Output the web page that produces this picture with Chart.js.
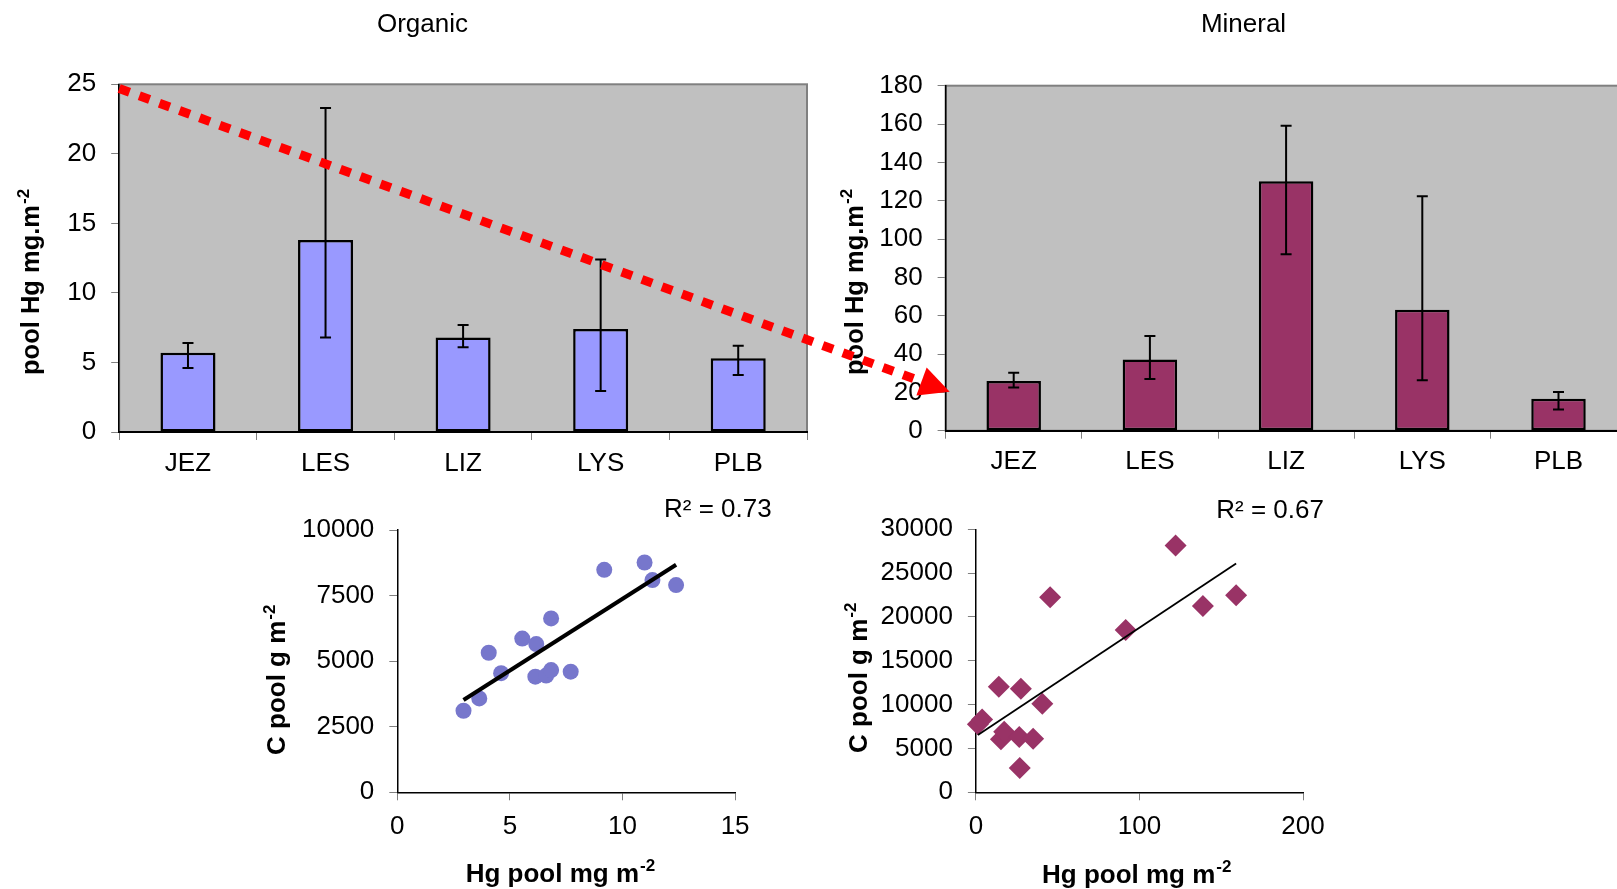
<!DOCTYPE html>
<html>
<head>
<meta charset="utf-8">
<script src="https://cdn.jsdelivr.net/npm/chart.js@4.4.1/dist/chart.umd.min.js"></script>
<style>
html, body { margin: 0; padding: 0; background: #fff; overflow: hidden; }
canvas { position: absolute; left: 0; top: 0; }
</style>
</head>
<body>
<canvas id="organicBars" width="1640" height="889"></canvas>
<canvas id="mineralBars" width="1640" height="889"></canvas>
<canvas id="organicScatter" width="1640" height="889"></canvas>
<canvas id="mineralScatter" width="1640" height="889"></canvas>
<canvas id="arrow" width="1640" height="889"></canvas>
<script>
// site means with error bar ends (mg Hg per m2)
const sites = ['JEZ', 'LES', 'LIZ', 'LYS', 'PLB'];
const organicMean = [5.7, 13.8, 6.8, 7.4, 5.3];
const organicLow = [4.6, 6.8, 6.1, 2.95, 4.1];
const organicHigh = [6.4, 23.3, 7.7, 12.4, 6.2];
const mineralMean = [25.9, 37.2, 130.1, 63.1, 16.7];
const mineralLow = [22.6, 27.0, 92.0, 26.3, 11.1];
const mineralHigh = [30.3, 49.4, 159.1, 122.3, 20.2];

// Hg pool vs C pool, single profiles
const organicHg = [2.94, 3.64, 4.06, 4.61, 5.55, 6.17, 6.13, 6.61, 6.83, 6.83, 7.70, 9.19, 10.98, 11.33, 12.38];
const organicC = [3110, 3580, 5320, 4540, 5860, 5650, 4410, 4450, 6630, 4660, 4600, 8480, 8760, 8090, 7900];
const mineralHg = [1.2, 3.8, 14.0, 15.3, 17.3, 26.5, 27.5, 26.8, 35.0, 40.6, 45.4, 91.6, 122.1, 138.8, 159.1];
const mineralC = [7750, 8300, 12050, 6050, 6920, 6300, 11800, 2780, 6100, 10100, 22240, 18520, 28140, 21260, 22470];

// axis ticks
const organicBarTicks = [0, 5, 10, 15, 20, 25];
const mineralBarTicks = [0, 20, 40, 60, 80, 100, 120, 140, 160, 180];
const organicHgTicks = [0, 5, 10, 15];
const organicCTicks = [0, 2500, 5000, 7500, 10000];
const mineralHgTicks = [0, 100, 200];
const mineralCTicks = [0, 5000, 10000, 15000, 20000, 25000, 30000];

// red arrow: from top of organic panel to the mineral panel (category index, value)
const arrowStart = { index: -0.5, value: 24.7 };
const arrowEnd = { index: -0.47, value: 20.3 };

Chart.defaults.font.family = "'Liberation Sans', Arial, sans-serif";
Chart.defaults.font.size = 26;
Chart.defaults.color = '#000';

const Y_BOX = 110;   // fixed width of every y axis box
const X_BOX = 50;    // fixed height of every x axis box

function fit(list, min, max) {
  return { min: min, max: max, afterBuildTicks: s => { s.ticks = list.map(v => ({ value: v })); } };
}

function trendLine(xs, ys) {
  const n = xs.length;
  const mx = xs.reduce((a, b) => a + b) / n, my = ys.reduce((a, b) => a + b) / n;
  let sxy = 0, sxx = 0, syy = 0;
  xs.forEach((x, i) => { sxy += (x - mx) * (ys[i] - my); sxx += (x - mx) ** 2; syy += (ys[i] - my) ** 2; });
  const b = sxy / sxx, a = my - b * mx;
  const lo = Math.min(...xs), hi = Math.max(...xs);
  return { pts: [{ x: lo, y: a + b * lo }, { x: hi, y: a + b * hi }], r2: sxy * sxy / (sxx * syy) };
}

// plot area box: chart area left/top/right/bottom in page pixels
function area(left, top, right, bottom) {
  return { left: left - Y_BOX, top: top, right: 1640 - right, bottom: 889 - bottom - X_BOX };
}

const plain = v => String(v);

const plotFrame = {
  id: 'plotFrame',
  beforeDraw(chart) {
    const { ctx, chartArea: a } = chart;
    ctx.save();
    ctx.fillStyle = '#C0C0C0';
    ctx.fillRect(a.left, a.top, a.right - a.left, a.bottom - a.top);
    ctx.strokeStyle = '#808080';
    ctx.lineWidth = 2;
    ctx.strokeRect(a.left, a.top, a.right - a.left, a.bottom - a.top);
    ctx.restore();
  }
};

function errorBars(low, high) {
  return {
    id: 'errorBars',
    afterDatasetsDraw(chart) {
      const { ctx, scales: { x, y } } = chart;
      ctx.save();
      ctx.strokeStyle = '#000';
      ctx.lineWidth = 2;
      low.forEach((lo, i) => {
        const px = x.getPixelForValue(i);
        const yl = y.getPixelForValue(lo), yh = y.getPixelForValue(high[i]);
        ctx.beginPath();
        ctx.moveTo(px, yl); ctx.lineTo(px, yh);
        ctx.moveTo(px - 5.5, yl); ctx.lineTo(px + 5.5, yl);
        ctx.moveTo(px - 5.5, yh); ctx.lineTo(px + 5.5, yh);
        ctx.stroke();
      });
      ctx.restore();
    }
  };
}

// titles, axis titles with superscripts, R² labels
function notes(items) {
  return {
    id: 'notes',
    afterDraw(chart) {
      const ctx = chart.ctx;
      items.forEach(t => {
        const size = t.size || 26;
        const fam = Chart.defaults.font.family;
        const main = (t.bold ? 'bold ' : '') + size + 'px ' + fam;
        const small = (t.bold ? 'bold ' : '') + Math.round(size * 0.65) + 'px ' + fam;
        ctx.save();
        ctx.translate(t.x, t.y);
        if (t.rot) ctx.rotate(t.rot);
        ctx.fillStyle = '#000';
        ctx.textBaseline = 'alphabetic';
        ctx.textAlign = 'left';
        ctx.font = main;
        const w = ctx.measureText(t.text).width;
        let sw = 0;
        if (t.sup) { ctx.font = small; sw = ctx.measureText(t.sup).width + 1; ctx.font = main; }
        const x0 = t.align === 'center' ? -(w + sw) / 2 : 0;
        ctx.fillText(t.text, x0, 0);
        if (t.sup) {
          ctx.font = small;
          ctx.fillText(t.sup, x0 + w + 1, -size * 0.4);
        }
        ctx.restore();
      });
    }
  };
}

function barScales(ticks, max) {
  return {
    x: {
      type: 'category',
      offset: true,
      grid: { offset: true, drawOnChartArea: false, tickLength: 8, color: '#808080' },
      border: { color: '#000', width: 2 },
      ticks: { padding: 8, font: { size: 26 } },
      afterFit: s => { s.height = X_BOX; }
    },
    y: Object.assign(fit(ticks, 0, max), {
      grid: { drawOnChartArea: false, tickLength: 8, color: '#808080' },
      border: { color: '#000', width: 1.5 },
      ticks: { padding: 15, font: { size: 26 }, callback: plain },
      afterFit: s => { s.width = Y_BOX; }
    })
  };
}

function scatterScales(xt, xmax, yt, ymax) {
  return {
    x: Object.assign(fit(xt, 0, xmax), {
      type: 'linear',
      grid: { drawOnChartArea: false, tickLength: 8, color: '#808080' },
      border: { color: '#000', width: 1.5 },
      ticks: { padding: 11, font: { size: 26 }, callback: plain },
      afterFit: s => { s.height = X_BOX; }
    }),
    y: Object.assign(fit(yt, 0, ymax), {
      type: 'linear',
      grid: { drawOnChartArea: false, tickLength: 8, color: '#808080' },
      border: { color: '#000', width: 1.5 },
      ticks: { padding: 15, font: { size: 26 }, callback: plain },
      afterFit: s => { s.width = Y_BOX; }
    })
  };
}

const common = {
  animation: false,
  responsive: false,
  events: [],
  plugins: { legend: { display: false }, tooltip: { enabled: false } }
};

const organicChart = new Chart(document.getElementById('organicBars'), {
  type: 'bar',
  data: {
    labels: sites,
    datasets: [{
      data: organicMean,
      backgroundColor: '#9999FF',
      borderColor: '#000',
      borderWidth: 2.5,
      borderSkipped: false,
      barPercentage: 0.4,
      categoryPercentage: 1
    }]
  },
  options: Object.assign({}, common, {
    layout: { padding: area(119.2, 84.3, 807, 432) },
    scales: barScales(organicBarTicks, 25)
  }),
  plugins: [plotFrame, errorBars(organicLow, organicHigh), notes([
    { text: 'Organic', x: 422.5, y: 31.5, align: 'center' },
    { text: 'pool Hg mg.m', sup: '-2', x: 39, y: 375, rot: -Math.PI / 2, bold: true, size: 25.5 }
  ])]
});

const mineralChart = new Chart(document.getElementById('mineralBars'), {
  type: 'bar',
  data: {
    labels: sites,
    datasets: [{
      data: mineralMean,
      backgroundColor: '#993366',
      borderColor: '#000',
      borderWidth: 2.5,
      borderSkipped: false,
      barPercentage: 0.4,
      categoryPercentage: 1
    }]
  },
  options: Object.assign({}, common, {
    layout: { padding: area(945.6, 85.7, 1626.6, 430.7) },
    scales: barScales(mineralBarTicks, 180)
  }),
  plugins: [plotFrame, errorBars(mineralLow, mineralHigh), notes([
    { text: 'Mineral', x: 1243.5, y: 31.5, align: 'center' },
    { text: 'pool Hg mg.m', sup: '-2', x: 862.5, y: 375, rot: -Math.PI / 2, bold: true, size: 25.5 }
  ])]
});

const organicFit = trendLine(organicHg, organicC);
new Chart(document.getElementById('organicScatter'), {
  type: 'scatter',
  data: {
    datasets: [{
      type: 'line',
      data: organicFit.pts,
      borderColor: '#000',
      borderWidth: 4,
      pointRadius: 0,
      order: 1
    }, {
      data: organicHg.map((x, i) => ({ x: x, y: organicC[i] })),
      pointStyle: 'circle',
      pointRadius: 8,
      backgroundColor: '#7777CC',
      borderWidth: 0,
      clip: false,
      order: 2
    }]
  },
  options: Object.assign({}, common, {
    layout: { padding: area(397.3, 530, 735.1, 792.3) },
    scales: scatterScales(organicHgTicks, 15, organicCTicks, 10000)
  }),
  plugins: [notes([
    { text: 'C pool g m', sup: '-2', x: 285, y: 755, rot: -Math.PI / 2, bold: true, size: 26 },
    { text: 'Hg pool mg m', sup: '-2', x: 465.7, y: 881.7, bold: true, size: 26 },
    { text: 'R² = ' + organicFit.r2.toFixed(2), x: 664, y: 516.7 }
  ])]
});

const mineralFit = trendLine(mineralHg, mineralC);
new Chart(document.getElementById('mineralScatter'), {
  type: 'scatter',
  data: {
    datasets: [{
      type: 'line',
      data: mineralFit.pts,
      borderColor: '#000',
      borderWidth: 1.8,
      pointRadius: 0,
      order: 1
    }, {
      data: mineralHg.map((x, i) => ({ x: x, y: mineralC[i] })),
      pointStyle: 'rectRot',
      pointRadius: 11,
      backgroundColor: '#993366',
      borderWidth: 0,
      clip: false,
      order: 2
    }]
  },
  options: Object.assign({}, common, {
    layout: { padding: area(975.9, 529.3, 1303, 792.3) },
    scales: scatterScales(mineralHgTicks, 200, mineralCTicks, 30000)
  }),
  plugins: [notes([
    { text: 'C pool g m', sup: '-2', x: 866.5, y: 753, rot: -Math.PI / 2, bold: true, size: 26 },
    { text: 'Hg pool mg m', sup: '-2', x: 1042, y: 882.7, bold: true, size: 26 },
    { text: 'R² = ' + mineralFit.r2.toFixed(2), x: 1216.3, y: 518.3 }
  ])]
});

// dotted red arrow linking the two bar panels
(function drawArrow() {
  const ctx = document.getElementById('arrow').getContext('2d');
  const x0 = organicChart.scales.x.getPixelForValue(arrowStart.index);
  const y0 = organicChart.scales.y.getPixelForValue(arrowStart.value);
  const x1 = mineralChart.scales.x.getPixelForValue(arrowEnd.index);
  const y1 = mineralChart.scales.y.getPixelForValue(arrowEnd.value);
  const ang = Math.atan2(y1 - y0, x1 - x0);
  const c = Math.cos(ang), s = Math.sin(ang);
  const head = 30, half = 15;
  const bx = x1 - head * c, by = y1 - head * s;
  ctx.strokeStyle = '#FF0000';
  ctx.fillStyle = '#FF0000';
  ctx.lineWidth = 9;
  ctx.setLineDash([11, 10.4]);
  ctx.beginPath();
  ctx.moveTo(x0, y0);
  ctx.lineTo(bx - 8 * c, by - 8 * s);
  ctx.stroke();
  ctx.setLineDash([]);
  ctx.beginPath();
  ctx.moveTo(x1, y1);
  ctx.lineTo(bx + half * s, by - half * c);
  ctx.lineTo(bx - half * s, by + half * c);
  ctx.closePath();
  ctx.fill();
})();
</script>
</body>
</html>
